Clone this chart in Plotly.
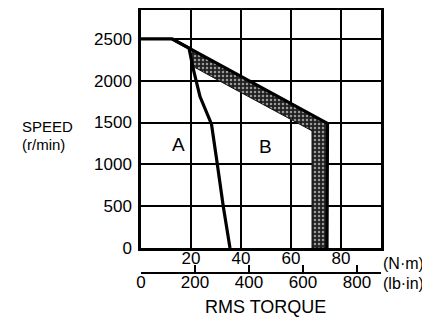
import plotly.graph_objects as go

# ---- data ----
torque_ticks_nm = [20, 40, 60, 80]
torque_ticks_lbin = [0, 200, 400, 600, 800]
speed_ticks = [0, 500, 1000, 1500, 2000, 2500]

# Curve A (N·m, r/min)
curve_a_x = [0, 12.4, 19.2, 20.9, 23.6, 28.2, 30.3, 32.9, 35.6]
curve_a_y = [2500, 2500, 2390, 2140, 1810, 1480, 1050, 500, 0]

# Outer boundary of region B
outer_x = [12.4, 74.6, 74.4]
outer_y = [2500, 1490, 0]

# Shaded band (outer edge then inner edge)
band_x = [18.8, 74.6, 74.4, 68.4, 68.4, 67.2, 35.6, 20.9, 19.8, 18.8]
band_y = [2400, 1490, 0, 0, 1400, 1420, 1929, 2169, 2300, 2400]

labels_text = ["A", "B"]
labels_x = [14.8, 49.6]
labels_y = [1232, 1208]

# ---- layout geometry (page body has an 8px margin) ----
OFF = 8
W, H = 430 - OFF, 320 - OFF
# plot area in screen pixels: x 130..390, y 10..300
SX0, SX1, SY0, SY1 = 130, 390, 10, 300
ML, MT = SX0 - OFF, SY0 - OFF
MR, MB = W - (SX1 - OFF), H - (SY1 - OFF)
PW, PH = SX1 - SX0, SY1 - SY0


def px(xs):
    return (xs - SX0) / PW


def py(ys):
    return (SY1 - ys) / PH


FONT = "Liberation Sans, Arial, sans-serif"

fig = go.Figure()

fig.add_trace(go.Scatter(
    x=band_x, y=band_y, mode="lines", fill="toself",
    line=dict(color="#111", width=1),
    fillcolor="#2a2a2a",
    fillpattern=dict(shape=".", bgcolor="#202020", fgcolor="#9a9a9a",
                     size=4, solidity=0.3),
    hoverinfo="skip", showlegend=False))

fig.add_trace(go.Scatter(
    x=outer_x, y=outer_y, mode="lines",
    line=dict(color="black", width=3.2),
    hoverinfo="skip", showlegend=False))

fig.add_trace(go.Scatter(
    x=curve_a_x, y=curve_a_y, mode="lines",
    line=dict(color="black", width=3.2),
    hoverinfo="skip", showlegend=False))

# invisible trace to activate the lb·in axis
fig.add_trace(go.Scatter(
    x=[0], y=[0], xaxis="x2", yaxis="y", mode="markers",
    marker=dict(opacity=0), hoverinfo="skip", showlegend=False))

for t, x, y in zip(labels_text, labels_x, labels_y):
    fig.add_annotation(x=x, y=y, text=t, showarrow=False,
                       font=dict(family=FONT, size=19, color="black"))

ann = [
    ("SPEED", 21, 126, "left", 15),
    ("(r/min)", 21, 144, "left", 15),
    ("(N·m)", 382, 263, "left", 16),
    ("(lb·in)", 382, 283, "left", 16),
    ("RMS TORQUE", 265, 307, "center", 18),
]
for t, xs, ys, xa, fs in ann:
    fig.add_annotation(x=px(xs), y=py(ys), xref="paper", yref="paper",
                       text=t, showarrow=False, xanchor=xa, yanchor="middle",
                       borderpad=0,
                       font=dict(family=FONT, size=fs, color="black"))

fig.update_layout(
    template="none",
    width=W, height=H,
    margin=dict(l=ML, r=MR, t=MT, b=MB, pad=0, autoexpand=False),
    paper_bgcolor="white", plot_bgcolor="white",
    font=dict(family=FONT, size=17, color="black"),
    showlegend=False,
    xaxis=dict(
        domain=[px(141), px(381)], range=[0, 96],
        tickvals=torque_ticks_nm, ticktext=[str(v) for v in torque_ticks_nm],
        ticks="", showgrid=True, gridcolor="black", gridwidth=1.5,
        showline=True, linecolor="black", linewidth=2.5, mirror=True,
        zeroline=False, tickfont=dict(size=17), ticklabelstandoff=-7,
        automargin=False, anchor="y", layer="above traces"),
    yaxis=dict(
        domain=[py(248), 1], range=[0, 2845],
        tickvals=speed_ticks, ticktext=[str(v) for v in speed_ticks],
        ticks="", showgrid=True, gridcolor="black", gridwidth=1.5,
        showline=True, linecolor="black", linewidth=2.5, mirror=True,
        zeroline=False, tickfont=dict(size=17), ticklabelstandoff=3,
        automargin=False, anchor="x"),
    xaxis2=dict(
        overlaying="x", range=[0, 240 / 0.27],
        anchor="free", position=py(273),
        tickvals=torque_ticks_lbin, ticktext=[str(v) for v in torque_ticks_lbin],
        ticks="inside", ticklen=7, tickwidth=1.5, tickcolor="black",
        showgrid=False, zeroline=False,
        showline=True, linecolor="black", linewidth=1.5,
        tickfont=dict(size=17), side="bottom", automargin=False,
        ticklabelstandoff=-6),
)

fig.write_html("out.html")
